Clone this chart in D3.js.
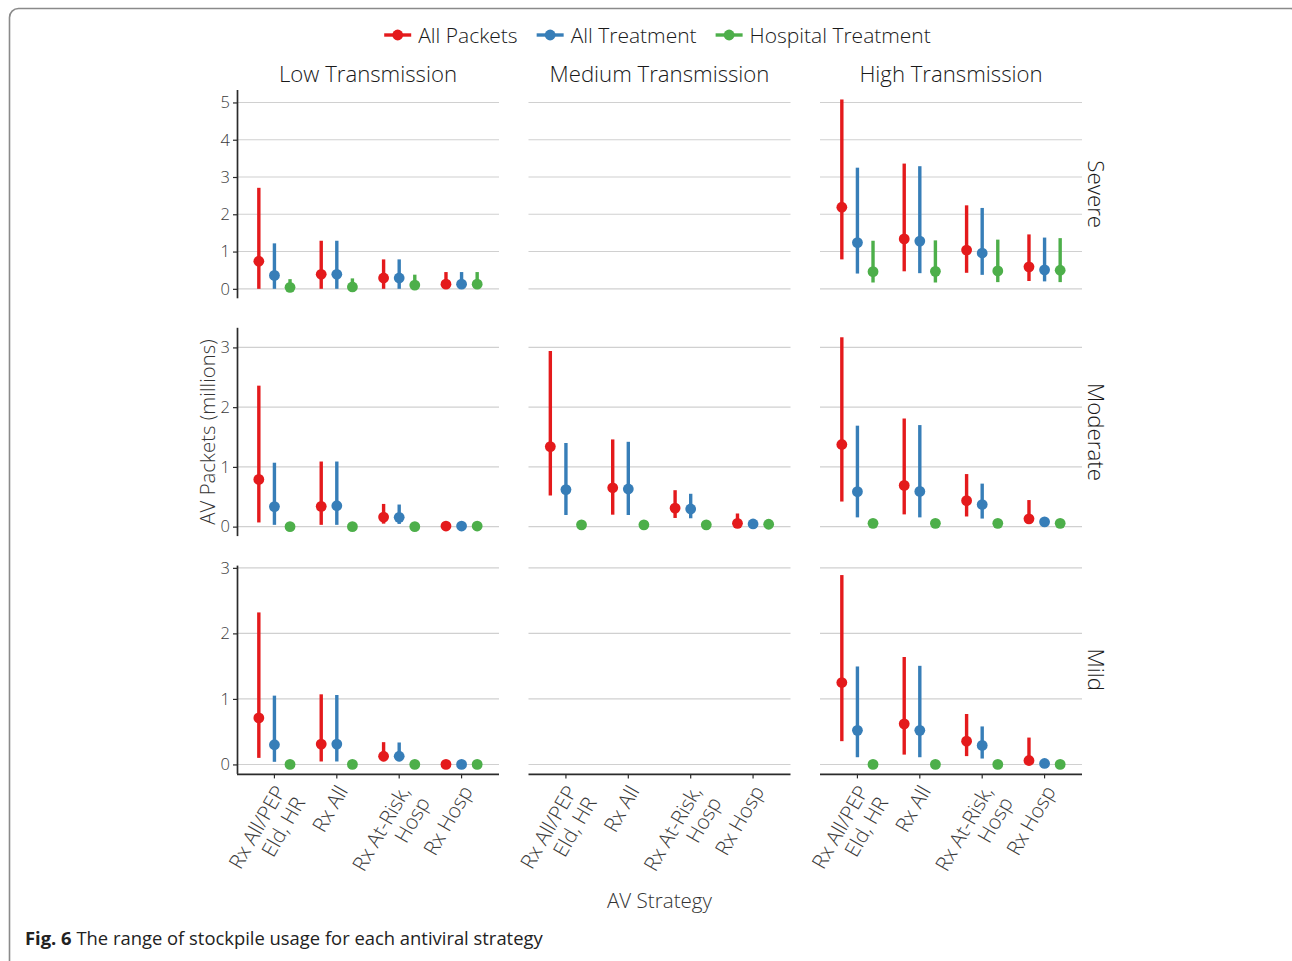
<!DOCTYPE html>
<html>
<head>
<meta charset="utf-8">
<script src="https://cdn.jsdelivr.net/npm/d3@7"></script>
<style>
  body { margin: 0; background: #fff; }
  svg { display: block; }
  text { font-family: "Open Sans", "DejaVu Sans", sans-serif; font-weight: 300; }
</style>
</head>
<body>
<svg id="chart" width="1292" height="961"></svg>
<script>
// ---- data ---------------------------------------------------------------
const transmissions = ["Low Transmission", "Medium Transmission", "High Transmission"];
const severities = ["Severe", "Moderate", "Mild"];
const strategies = ["Rx All/PEP\nEld, HR", "Rx All", "Rx At-Risk,\nHosp", "Rx Hosp"];
const seriesNames = ["All Packets", "All Treatment", "Hospital Treatment"];
const seriesColors = ["#E41A1C", "#377EB8", "#4DAF4A"];
const yTicks = [[0, 1, 2, 3, 4, 5], [0, 1, 2, 3], [0, 1, 2, 3]];

// Each panel: one array per series, one [median, low, high] per strategy (millions)
const lowSevere = [
  [[0.74, 0.00, 2.71], [0.39, 0.00, 1.29], [0.29, 0.00, 0.79], [0.125, 0.00, 0.45]],
  [[0.36, 0.00, 1.22], [0.39, 0.00, 1.29], [0.29, 0.00, 0.79], [0.125, 0.00, 0.45]],
  [[0.04, 0.00, 0.26], [0.05, 0.00, 0.28], [0.10, 0.00, 0.38], [0.125, 0.00, 0.45]]
];
const mediumSevere = [];
const highSevere = [
  [[2.19, 0.79, 5.08], [1.34, 0.47, 3.36], [1.04, 0.43, 2.24], [0.59, 0.21, 1.46]],
  [[1.24, 0.41, 3.25], [1.28, 0.42, 3.29], [0.96, 0.375, 2.17], [0.51, 0.20, 1.375]],
  [[0.46, 0.17, 1.29], [0.47, 0.17, 1.30], [0.48, 0.18, 1.32], [0.50, 0.18, 1.36]]
];
const lowModerate = [
  [[0.79, 0.07, 2.36], [0.34, 0.03, 1.09], [0.16, 0.05, 0.38], [0.01, 0.01, 0.01]],
  [[0.335, 0.03, 1.07], [0.35, 0.03, 1.09], [0.155, 0.045, 0.37], [0.01, 0.01, 0.01]],
  [[0.00, 0.00, 0.00], [0.00, 0.00, 0.00], [0.00, 0.00, 0.00], [0.01, 0.01, 0.01]]
];
const mediumModerate = [
  [[1.34, 0.52, 2.94], [0.65, 0.20, 1.46], [0.31, 0.145, 0.61], [0.055, 0.04, 0.22]],
  [[0.62, 0.195, 1.40], [0.63, 0.195, 1.42], [0.295, 0.14, 0.55], [0.045, 0.045, 0.045]],
  [[0.03, 0.03, 0.03], [0.03, 0.03, 0.03], [0.03, 0.03, 0.03], [0.04, 0.04, 0.04]]
];
const highModerate = [
  [[1.375, 0.42, 3.17], [0.69, 0.205, 1.81], [0.435, 0.17, 0.88], [0.13, 0.09, 0.445]],
  [[0.585, 0.155, 1.69], [0.59, 0.155, 1.70], [0.37, 0.135, 0.72], [0.08, 0.08, 0.08]],
  [[0.055, 0.055, 0.055], [0.055, 0.055, 0.055], [0.055, 0.055, 0.055], [0.055, 0.055, 0.055]]
];
const lowMild = [
  [[0.71, 0.10, 2.32], [0.31, 0.045, 1.07], [0.125, 0.05, 0.34], [0.00, 0.00, 0.00]],
  [[0.30, 0.04, 1.05], [0.31, 0.045, 1.06], [0.125, 0.05, 0.335], [0.00, 0.00, 0.00]],
  [[0.00, 0.00, 0.00], [0.00, 0.00, 0.00], [0.00, 0.00, 0.00], [0.00, 0.00, 0.00]]
];
const mediumMild = [];
const highMild = [
  [[1.25, 0.355, 2.89], [0.62, 0.15, 1.64], [0.355, 0.127, 0.77], [0.06, 0.03, 0.41]],
  [[0.52, 0.11, 1.495], [0.52, 0.11, 1.505], [0.29, 0.09, 0.58], [0.015, 0.015, 0.015]],
  [[0.00, 0.00, 0.00], [0.00, 0.00, 0.00], [0.00, 0.00, 0.00], [0.00, 0.00, 0.00]]
];

const panels = [
  [lowSevere, mediumSevere, highSevere],
  [lowModerate, mediumModerate, highModerate],
  [lowMild, mediumMild, highMild]
];

// ---- layout -------------------------------------------------------------
const svg = d3.select("#chart");
const plotLeft = 237, panelW = 262, gapX = 29.5;
const plotTop = 90, panelH = 208.3, gapY = 29.5;
const colX = i => plotLeft + i * (panelW + gapX);
const rowY = i => plotTop + i * (panelH + gapY);

const gridColor = "#d0d0d0";
const axisColor = "#2b2b2b";
const tickText = "#3a3a3a";
const titleText = "#1a1a1a";

// outer frame with rounded corner
svg.append("rect")
  .attr("x", 9.5).attr("y", 8.5)
  .attr("width", 1290).attr("height", 1000)
  .attr("rx", 9)
  .attr("fill", "none")
  .attr("stroke", "#8a8a8a")
  .attr("stroke-width", 1.6);

// discrete x position (0.6 category units of padding on each side)
const xBand = d3.scaleLinear().domain([0.4, strategies.length + 0.6]).range([0, panelW]);
const dodge = [-0.25, 0, 0.25];

// one y scale per row, 5% expansion of the data range
const yScales = panels.map((row, r) => {
  const maxHi = d3.max(row.flatMap(p => p.flatMap(s => s.map(d => d[2]))));
  const ext = 0.05 * maxHi;
  return d3.scaleLinear().domain([-ext, maxHi + ext]).range([rowY(r) + panelH, rowY(r)]);
});

panels.forEach((row, r) => {
  const y = yScales[r];
  row.forEach((panel, c) => {
    const g = svg.append("g").attr("transform", `translate(${colX(c)},0)`);

    // gridlines
    g.selectAll("line.grid")
      .data(yTicks[r])
      .join("line")
      .attr("class", "grid")
      .attr("x1", 0).attr("x2", panelW)
      .attr("y1", d => y(d)).attr("y2", d => y(d))
      .attr("stroke", gridColor)
      .attr("stroke-width", 1.1);

    // point ranges
    panel.forEach((series, s) => {
      series.forEach((d, k) => {
        const cx = xBand(k + 1 + dodge[s]);
        g.append("line")
          .attr("x1", cx).attr("x2", cx)
          .attr("y1", y(d[1])).attr("y2", y(d[2]))
          .attr("stroke", seriesColors[s])
          .attr("stroke-width", 3.4);
        g.append("circle")
          .attr("cx", cx).attr("cy", y(d[0]))
          .attr("r", 5.4)
          .attr("fill", seriesColors[s]);
      });
    });

    // y axis on the first column only
    if (c === 0) {
      const ax = g.append("g").call(d3.axisLeft(y).tickValues(yTicks[r]).tickSize(4).tickPadding(3).tickFormat(d3.format("d")));
      ax.select(".domain").attr("stroke", axisColor).attr("stroke-width", 1.7)
        .attr("d", `M0.5,${y.range()[0]}V${y.range()[1]}`);
      ax.selectAll(".tick line").attr("stroke", axisColor).attr("stroke-width", 1.2);
      ax.selectAll(".tick text").attr("fill", tickText).attr("font-size", 16.5)
        .style("font-family", '"Open Sans", sans-serif').style("font-weight", 300);
    }

    // x axis on the bottom row
    if (r === panels.length - 1) {
      const xAxisY = rowY(r) + panelH;
      const xa = g.append("g").attr("transform", `translate(0,${xAxisY})`);
      xa.append("line").attr("x1", 0).attr("x2", panelW).attr("y1", 0.5).attr("y2", 0.5)
        .attr("stroke", axisColor).attr("stroke-width", 1.7);
      strategies.forEach((lab, k) => {
        const cx = xBand(k + 1);
        xa.append("line").attr("x1", cx).attr("x2", cx).attr("y1", 0).attr("y2", 4.5)
          .attr("stroke", axisColor).attr("stroke-width", 1.2);
        const t = xa.append("text")
          .attr("transform", `translate(${cx - 1.5},9.5) rotate(-60)`)
          .attr("text-anchor", "end")
          .attr("font-size", 20.5)
          .attr("fill", tickText);
        lab.split("\n").forEach((line, li) => {
          t.append("tspan").attr("x", 0).attr("dy", li === 0 ? "0.75em" : "1.1em").text(line);
        });
      });
    }

    // column strip titles
    if (r === 0) {
      svg.append("text")
        .attr("x", colX(c) + panelW / 2).attr("y", 82)
        .attr("text-anchor", "middle")
        .attr("font-size", 22.2)
        .attr("fill", titleText)
        .text(transmissions[c]);
    }
  });

  // row strip titles
  svg.append("text")
    .attr("transform", `translate(1096,${rowY(r) + panelH / 2}) rotate(90)`)
    .attr("text-anchor", "middle")
    .attr("dominant-baseline", "central")
    .attr("font-size", 22.3)
    .attr("fill", titleText)
    .text(severities[r]);
});

// axis titles
svg.append("text")
  .attr("transform", `translate(207,${(plotTop + rowY(2) + panelH) / 2}) rotate(-90)`)
  .attr("text-anchor", "middle")
  .attr("dominant-baseline", "central")
  .attr("font-size", 20.4)
  .attr("fill", "#333")
  .text("AV Packets (millions)");

svg.append("text")
  .attr("x", plotLeft + (3 * panelW + 2 * gapX) / 2).attr("y", 908)
  .attr("text-anchor", "middle")
  .attr("font-size", 20.6)
  .attr("fill", "#333")
  .text("AV Strategy");

// legend
const legend = svg.append("g");
const keyW = 27, keyGap = 7, itemGap = 19, legendY = 35;
const items = seriesNames.map((name, i) => {
  const g = legend.append("g");
  g.append("line").attr("x1", 0).attr("x2", keyW).attr("y1", legendY).attr("y2", legendY)
    .attr("stroke", seriesColors[i]).attr("stroke-width", 3.4);
  g.append("circle").attr("cx", keyW / 2).attr("cy", legendY).attr("r", 5.4).attr("fill", seriesColors[i]);
  const t = g.append("text").attr("x", keyW + keyGap).attr("y", legendY)
    .attr("dominant-baseline", "central")
    .attr("font-size", 21).attr("fill", titleText).text(name);
  return { g, w: keyW + keyGap + t.node().getComputedTextLength() };
});
const totalW = d3.sum(items, d => d.w) + itemGap * (items.length - 1);
let lx = 657.5 - totalW / 2;
items.forEach(it => { it.g.attr("transform", `translate(${lx},0)`); lx += it.w + itemGap; });

// caption
const cap = svg.append("text").attr("x", 25).attr("y", 945).attr("font-size", 18.4).attr("fill", "#222")
  .style("font-weight", 400);
cap.append("tspan").attr("font-weight", "bold").style("font-weight", 700).text("Fig. 6");
cap.append("tspan").text(" The range of stockpile usage for each antiviral strategy");
</script>
</body>
</html>
